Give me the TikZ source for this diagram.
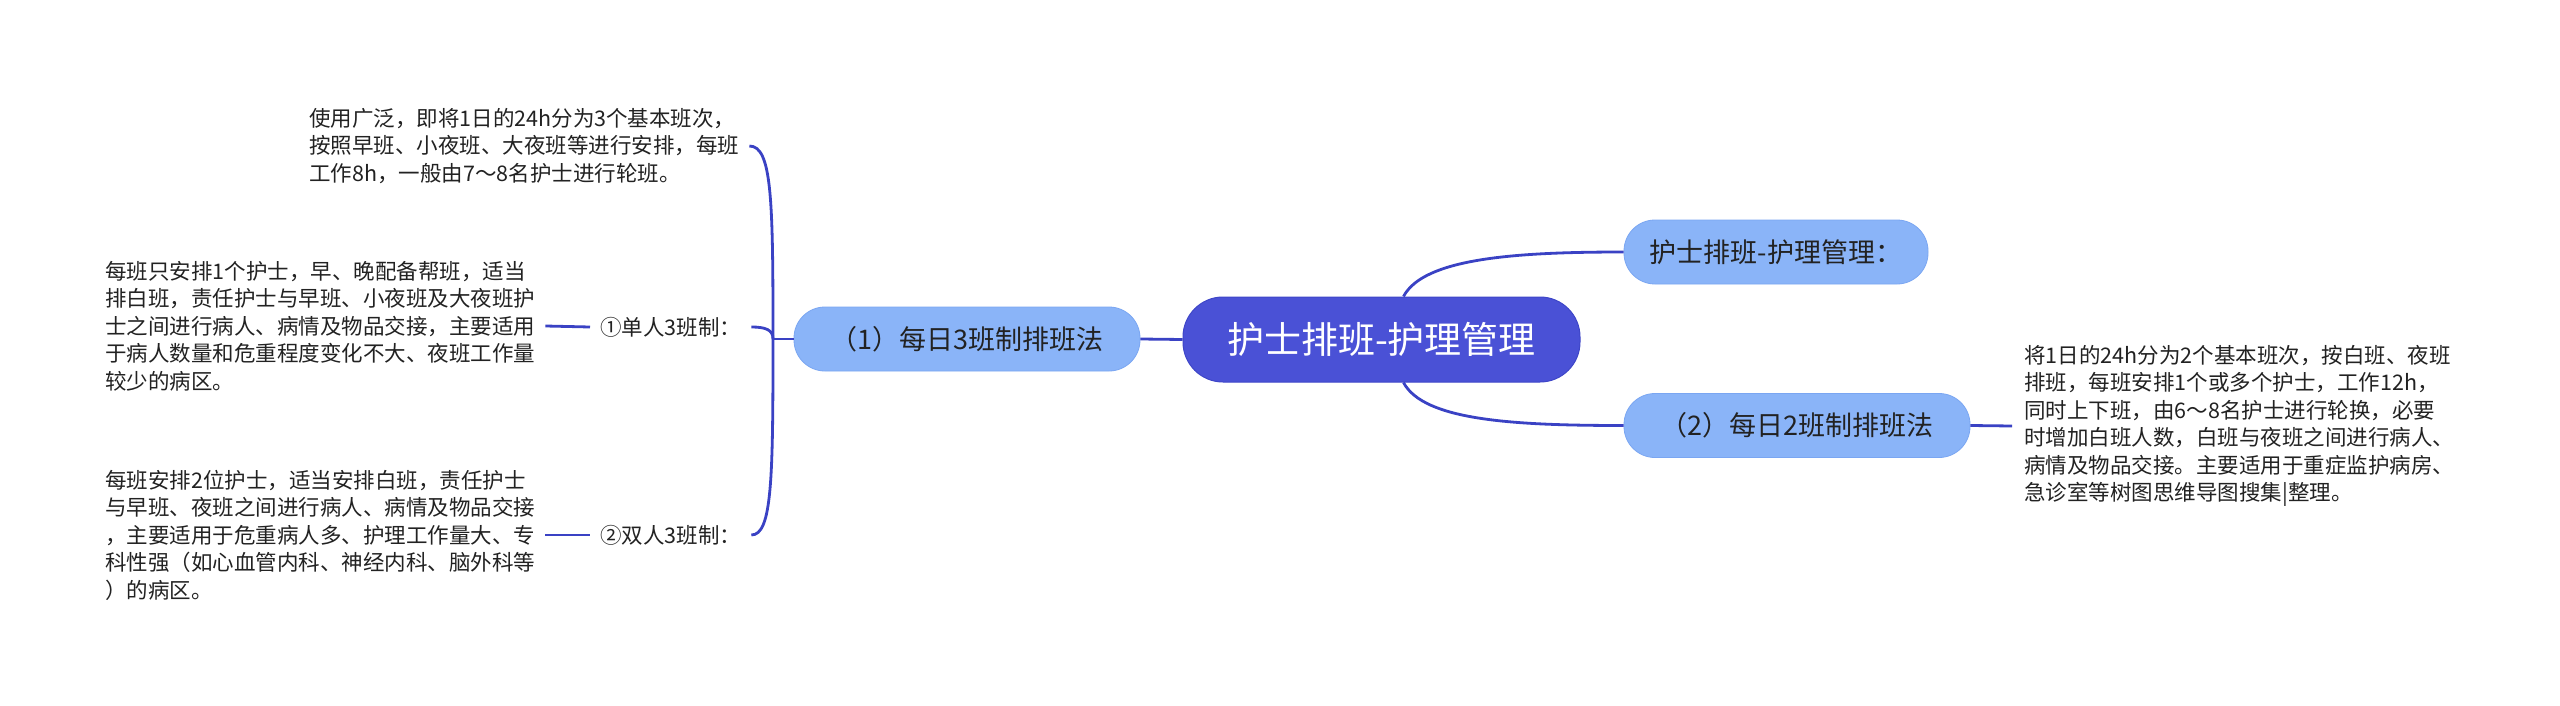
\documentclass[tikz,border=0pt]{standalone}
\usepackage{fontspec}
\setmainfont{Noto Sans CJK SC}
\definecolor{mainfill}{RGB}{74,81,214}
\definecolor{maindraw}{RGB}{62,70,200}
\definecolor{linec}{RGB}{58,66,196}
\definecolor{subfill}{RGB}{138,180,248}
\definecolor{subdraw}{RGB}{122,166,242}
\definecolor{txt}{RGB}{34,34,34}
\begin{document}
\begin{tikzpicture}[x=1pt,y=-1pt,
  conn/.style={draw=linec, line width=2.8pt},
  leaf/.style={font=\fontsize{21.5}{27.5}\selectfont, text=txt, align=left, inner xsep=10pt, inner ysep=0pt},
  sublabel/.style={font=\fontsize{21.5}{27.5}\selectfont, text=txt, inner xsep=10pt, inner ysep=0pt},
  subnode/.style={fill=subfill, draw=subdraw, line width=0.8pt, rounded corners=31pt, minimum height=64pt, font=\fontsize{27}{32}\selectfont, text=txt, inner sep=0pt},
  rootnode/.style={fill=mainfill, draw=maindraw, line width=1pt, rounded corners=40pt, minimum width=397pt, minimum height=85pt, text=white, font=\fontsize{37}{44}\selectfont, inner sep=0pt}
]
\fill[white] (0,0) rectangle (2560,706);
\useasboundingbox (0,0) rectangle (2560,706);

\node[rootnode] (root) at (1381.5,339.5) {护士排班-护理管理};
\node[subnode, minimum width=346pt] (n1) at (967,339) {（1）每日3班制排班法};
\node[subnode, minimum width=304pt] (r1) at (1776,252) {护士排班-护理管理：};
\node[subnode, minimum width=346pt] (n2) at (1797,425.5) {（2）每日2班制排班法};

\node[leaf, anchor=west] (top) at (299,146) {使用广泛，即将1日的24h分为3个基本班次，\\按照早班、小夜班、大夜班等进行安排，每班\\工作8h，一般由7～8名护士进行轮班。};
\node[sublabel, anchor=west] (lab1) at (590,327) {①单人3班制：};
\node[sublabel, anchor=west] (lab2) at (590,535) {②双人3班制：};
\node[leaf, anchor=west] (single) at (95,326) {每班只安排1个护士，早、晚配备帮班，适当\\排白班，责任护士与早班、小夜班及大夜班护\\士之间进行病人、病情及物品交接，主要适用\\于病人数量和危重程度变化不大、夜班工作量\\较少的病区。};
\node[leaf, anchor=west] (double) at (95,535) {每班安排2位护士，适当安排白班，责任护士\\与早班、夜班之间进行病人、病情及物品交接\\，主要适用于危重病人多、护理工作量大、专\\科性强（如心血管内科、神经内科、脑外科等\\）的病区。};
\node[leaf, anchor=west, inner xsep=12pt] (right) at (2012,426) {将1日的24h分为2个基本班次，按白班、夜班\\排班，每班安排1个或多个护士，工作12h，\\同时上下班，由6～8名护士进行轮换，必要\\时增加白班人数，白班与夜班之间进行病人、\\病情及物品交接。主要适用于重症监护病房、\\急诊室等树图思维导图搜集|整理。};

\coordinate (j) at (773,339);
\draw[conn] (n1.west) -- (j);
\draw[conn] (j) .. controls (773,200) and (772,146) .. (top.east);
\draw[conn] (j) .. controls (773,330) and (766,327) .. (lab1.east);
\draw[conn] (j) .. controls (773,480) and (772,535) .. (lab2.east);
\draw[conn] (single.east) -- (lab1.west);
\draw[conn] (double.east) -- (lab2.west);

\draw[conn] (n1.east) -- (root.west);
\draw[conn] ([xshift=22pt]root.north) .. controls +(20,-38) and +(-110,0) .. (r1.west);
\draw[conn] ([xshift=22pt]root.south) .. controls +(20,38) and +(-110,0) .. (n2.west);
\draw[conn] (n2.east) -- (right.west);
\end{tikzpicture}
\end{document}
